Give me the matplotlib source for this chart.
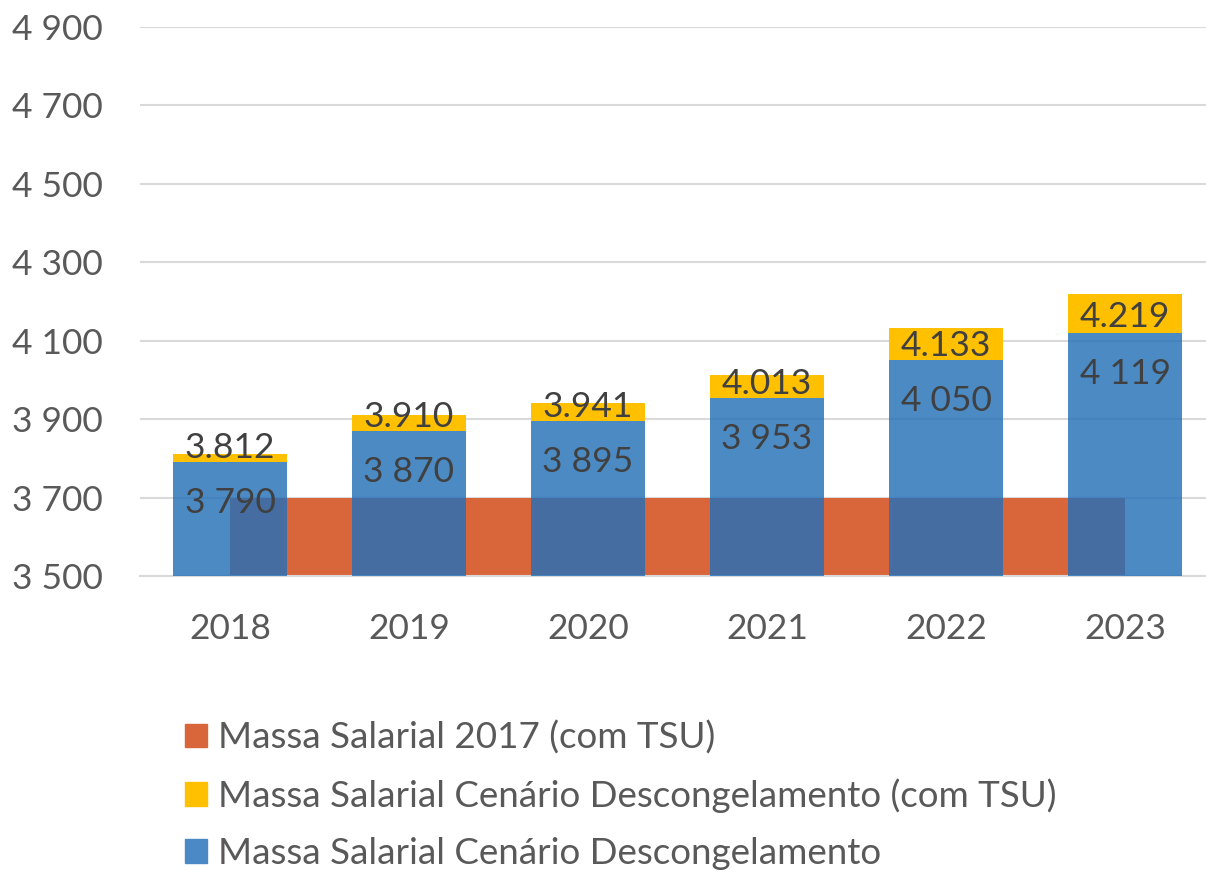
import matplotlib.pyplot as plt
from matplotlib.patches import Patch

plt.rcParams['font.family'] = ['Lato', 'DejaVu Sans']

years = ["2018", "2019", "2020", "2021", "2022", "2023"]
base_2017 = [3700, 3700, 3700, 3700, 3700, 3700]
descong_tsu = [3812, 3910, 3941, 4013, 4133, 4219]
descong = [3790, 3870, 3895, 3953, 4050, 4119]

orange = '#D9653B'
yellow = '#FFC000'
blue = (0.14, 0.44, 0.72, 0.82)

fig = plt.figure(figsize=(12.06, 8.71), dpi=100)
ax = fig.add_axes([0.116, 0.3387, 0.884, 0.6303])

x = list(range(len(years)))
w = 0.637

# orange series drawn as a flat area between category centres
ax.fill_between(x, 3500, base_2017, color=orange, linewidth=0, zorder=1)

# yellow segment stacked on top of the blue bar
ax.bar(x, [t - b for t, b in zip(descong_tsu, descong)], w, bottom=descong,
       color=yellow, zorder=2)
ax.bar(x, [b - 3500 for b in descong], w, bottom=3500, color=blue, zorder=3)

for i in x:
    t, b = descong_tsu[i], descong[i]
    ty = max((t + b) / 2, b + 44)
    ax.text(i, ty, f"{t // 1000}.{t % 1000:03d}", ha='center', va='center_baseline',
            fontsize=25.5, color='#404040', zorder=5)
    ax.text(i, b - 97, f"{b // 1000} {b % 1000:03d}", ha='center', va='center_baseline',
            fontsize=25.5, color='#404040', zorder=5)

ax.set_ylim(3500, 4900)
ax.set_xlim(-0.503, 5.452)
ax.set_yticks(range(3500, 4901, 200))
ax.set_yticklabels([f"{v // 1000} {v % 1000:03d}" for v in range(3500, 4901, 200)])
ax.set_xticks(x)
ax.set_xticklabels(years)
ax.tick_params(axis='both', length=0, labelsize=25.5, colors='#595959')
ax.tick_params(axis='y', pad=27)
ax.tick_params(axis='x', pad=27)
ax.grid(axis='y', color='#D9D9D9', linewidth=1.5, zorder=0)
ax.set_axisbelow(True)
for s in ['top', 'right', 'left']:
    ax.spines[s].set_visible(False)
ax.spines['bottom'].set_color('#D9D9D9')
ax.spines['bottom'].set_linewidth(1.5)

handles = [
    Patch(color=orange, label="Massa Salarial 2017 (com TSU)"),
    Patch(color=yellow, label="Massa Salarial Cenário Descongelamento (com TSU)"),
    Patch(color='#4A89C5', label="Massa Salarial Cenário Descongelamento"),
]
fig.legend(handles=handles, loc='upper left', bbox_to_anchor=(0.153, 0.173),
           frameon=False, fontsize=26.5, labelcolor='#595959',
           handlelength=0.6, handleheight=0.6, handletextpad=0.3,
           labelspacing=0.65, borderpad=0, borderaxespad=0)

fig.savefig('out.png', dpi=100)
